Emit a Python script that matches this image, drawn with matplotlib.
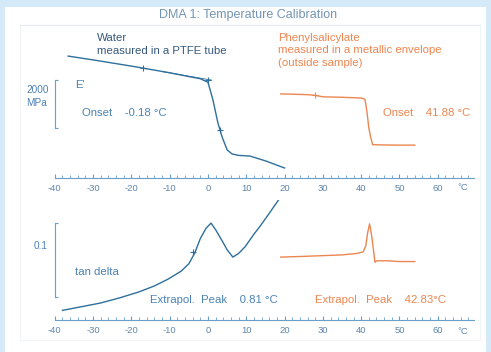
import matplotlib
matplotlib.use("Agg")
from matplotlib import pyplot as plt
from matplotlib.patches import Rectangle

# top panel: storage modulus E' (MPa)
water_T = [-36.5, -30, -25, -20, -15, -10, -5, -2, 0, 1.3, 2.6, 3.7, 5, 6.3, 8, 11, 15, 20]
water_E = [5120, 4960, 4830, 4700, 4560, 4420, 4260, 4170, 4020, 3280, 2310, 1720, 1180, 1010, 950, 920, 720, 420]
phenyl_T = [19, 22, 26, 28, 30, 35, 40, 41, 41.5, 42, 42.5, 43, 45, 50, 54]
phenyl_E = [3530, 3520, 3500, 3470, 3410, 3390, 3360, 3300, 2800, 2100, 1700, 1400, 1390, 1380, 1380]
onset_tan_T = [-12, 1]
onset_tan_E = [4470, 4110]
water_mark_T = [-17, 0, 3.1]
water_mark_E = [4640, 4110, 2020]
phenyl_mark_T = [28]
phenyl_mark_E = [3480]

# bottom panel: tan delta
wtd_T = [-38, -33, -28, -23, -18, -14, -10.5, -7, -5, -3.5, -2, -0.5, 0.8, 2, 3.7, 5, 6.5, 8, 9.7, 12, 13.5, 15.7, 18.8]
wtd = [0.013, 0.018, 0.023, 0.030, 0.038, 0.046, 0.055, 0.066, 0.076, 0.090, 0.110, 0.124, 0.131, 0.122, 0.107, 0.095,
       0.085, 0.090, 0.099, 0.116, 0.126, 0.142, 0.165]
ptd_T = [19, 25, 30, 35, 39, 40.5, 41.2, 41.7, 42.2, 42.8, 43.2, 43.6, 44, 47, 50, 54]
ptd = [0.085, 0.086, 0.087, 0.088, 0.090, 0.092, 0.100, 0.118, 0.130, 0.112, 0.095, 0.078, 0.080, 0.080, 0.079, 0.079]

major = list(range(-40, 61, 10))
minor = list(range(-40, 69, 2))

BLUE = "#2f6f9c"
BLUE_TXT = "#4a82b4"
AXC = "#6a9fca"
ORANGE = "#ec8650"
plt.rcParams['font.family'] = ['Liberation Sans', 'DejaVu Sans']

W, H = 491, 352
fig = plt.figure(figsize=(W / 100, H / 100), dpi=100, facecolor="#d4eaf8")
fig.patches.append(Rectangle((5 / W, 0), 481 / W, 1 - 7 / H, transform=fig.transFigure,
                             facecolor="white", edgecolor="none", zorder=-2))
fig.patches.append(Rectangle((20 / W, 1 - 340 / H), 460 / W, 315 / H, transform=fig.transFigure,
                             facecolor="none", edgecolor="#f1f4f7", lw=0.8, zorder=-1))


def px(x, y):
    return x / W, 1 - y / H


def setup(ax, ylim, bar):
    ax.set_xlim(-54.3, 73.9)
    ax.set_ylim(*ylim)
    ax.patch.set_visible(False)
    for s in ["top", "right"]:
        ax.spines[s].set_visible(False)
    ax.spines["bottom"].set_position(("data", 0))
    ax.spines["bottom"].set_bounds(-40, 69.5)
    ax.spines["bottom"].set_color(AXC)
    ax.spines["left"].set_position(("data", -39.9))
    ax.spines["left"].set_bounds(*bar)
    ax.spines["left"].set_color(AXC)
    ax.set_xticks(major)
    ax.set_xticklabels([str(t) for t in major])
    ax.set_xticks(minor, minor=True)
    ax.set_yticks(bar)
    ax.set_yticklabels([])
    ax.tick_params(axis="x", which="major", direction="in", length=3, color=AXC,
                   labelsize=6.8, labelcolor="#5f86aa", pad=4)
    ax.tick_params(axis="x", which="minor", direction="in", length=2, color=AXC)
    ax.tick_params(axis="y", direction="in", length=2, color=AXC)


ax1 = fig.add_axes([0, 1 - 195 / H, 1, 175 / H])
setup(ax1, (-714, 6636), (2100, 4100))
ax1.plot(water_T, water_E, color=BLUE, lw=1.0)
ax1.plot(onset_tan_T, onset_tan_E, color=BLUE, lw=0.6)
ax1.plot(water_mark_T, water_mark_E, ls="none", marker="+", ms=4, mew=0.8, color=BLUE)
ax1.plot(phenyl_T, phenyl_E, color=ORANGE, lw=1.0)
ax1.plot(phenyl_mark_T, phenyl_mark_E, ls="none", marker="+", ms=4, mew=0.8, color=ORANGE)

ax2 = fig.add_axes([0, 1 - 345 / H, 1, 145 / H])
setup(ax2, (-0.0338, 0.1622), (0.031, 0.131))
ax2.plot(wtd_T, wtd, color=BLUE, lw=1.0)
ax2.plot([-3.9], [0.092], ls="none", marker="+", ms=4, mew=0.8, color=BLUE)
ax2.plot(ptd_T, ptd, color=ORANGE, lw=1.0)

fs = 8.2
fig.text(*px(248, 15), "DMA 1: Temperature Calibration", ha="center", va="center", fontsize=9, color="#7395b3")
fig.add_artist(plt.Line2D([20 / W, 480 / W], [1 - 25 / H, 1 - 25 / H], color="#e2ebf2", lw=0.8))
fig.text(*px(97, 38), "Water", va="center", fontsize=fs, color="#35587a")
fig.text(*px(97, 51), "measured in a PTFE tube", va="center", fontsize=fs, color="#35587a")
fig.text(*px(75, 85), "E'", va="center", fontsize=fs, color=BLUE_TXT)
fig.text(*px(26, 90), "2000", va="center", fontsize=7.2, color=BLUE_TXT)
fig.text(*px(26, 103), "MPa", va="center", fontsize=7.2, color=BLUE_TXT)
fig.text(*px(82, 113), "Onset    -0.18 \u00b0C", va="center", fontsize=fs, color=BLUE_TXT)
fig.text(*px(278, 38), "Phenylsalicylate", va="center", fontsize=fs, color=ORANGE)
fig.text(*px(278, 50), "measured in a metallic envelope", va="center", fontsize=fs, color=ORANGE)
fig.text(*px(278, 63), "(outside sample)", va="center", fontsize=fs, color=ORANGE)
fig.text(*px(383, 113), "Onset    41.88 \u00b0C", va="center", fontsize=fs, color=ORANGE)
fig.text(*px(463, 187), "\u00b0C", ha="center", va="center", fontsize=6.8, color="#5f86aa")
fig.text(*px(463, 332), "\u00b0C", ha="center", va="center", fontsize=6.8, color="#5f86aa")
fig.text(*px(34, 246), "0.1", va="center", fontsize=7.2, color=BLUE_TXT)
fig.text(*px(75, 272), "tan delta", va="center", fontsize=fs, color=BLUE_TXT)
fig.text(*px(150, 300), "Extrapol.  Peak    0.81 \u00b0C", va="center", fontsize=fs, color=BLUE_TXT)
fig.text(*px(315, 300), "Extrapol.  Peak    42.83\u00b0C", va="center", fontsize=fs, color=ORANGE)

fig.savefig("out.png", dpi=100, facecolor=fig.get_facecolor())
